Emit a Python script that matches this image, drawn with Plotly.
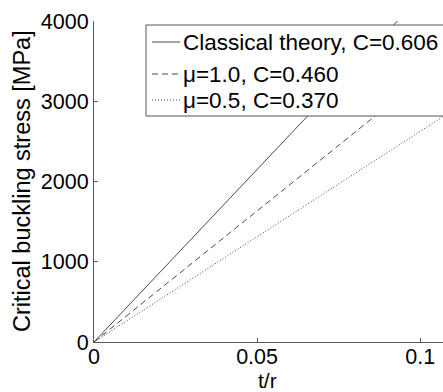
import plotly.graph_objects as go

# Data
t_r = [0.0, 0.12]
classical = [0.0, 5160.0]   # C = 0.606
mu_10 = [0.0, 3920.0]       # mu = 1.0, C = 0.460
mu_05 = [0.0, 3150.0]       # mu = 0.5, C = 0.370

names = ["Classical theory, C=0.606", "\u03bc=1.0, C=0.460", "\u03bc=0.5, C=0.370"]
series = [classical, mu_10, mu_05]
dashes = ["solid", "6px,4px", "1px,2px"]

x_ticks = [0, 0.05, 0.1]
x_ticklabels = ["0", "0.05", "0.1"]
y_ticks = [0, 1000, 2000, 3000, 4000]
y_ticklabels = ["0", "1000", "2000", "3000", "4000"]

FONT = "Liberation Sans, Arial, sans-serif"
W, H = 443, 392
L, R, T, B = 94, 0, 21, 50
PW, PH = W - L - R, H - T - B


def px(xp):
    return (xp - L) / PW


def py(yp):
    return (H - B - yp) / PH


LINE_COLOR = "#333333"
AX_COLOR = "#555555"

fig = go.Figure()
for name, ys, d in zip(names, series, dashes):
    fig.add_trace(go.Scatter(
        x=t_r, y=ys, mode="lines", name=name, showlegend=False,
        line=dict(color=LINE_COLOR, width=0.9, dash=d),
    ))

shapes = [
    dict(type="rect", xref="paper", yref="paper",
         x0=px(146), x1=px(480), y0=py(116), y1=py(25),
         fillcolor="white", line=dict(color=AX_COLOR, width=1), layer="above"),
]
annotations = []
row_y = [42, 74, 100]
for name, d, ry in zip(names, dashes, row_y):
    shapes.append(dict(type="line", xref="paper", yref="paper",
                       x0=px(152), x1=px(180), y0=py(ry), y1=py(ry),
                       line=dict(color=LINE_COLOR, width=0.9, dash=d), layer="above"))
    annotations.append(dict(text=name, xref="paper", yref="paper",
                            x=px(181), y=py(ry), xanchor="left", yanchor="middle",
                            showarrow=False,
                            font=dict(family=FONT, size=22.5, color="black")))

annotations.append(dict(text="Critical buckling stress [MPa]", xref="paper", yref="paper",
                        x=px(22), y=py(181), xanchor="center", yanchor="middle",
                        textangle=-90, showarrow=False,
                        font=dict(family=FONT, size=23.5, color="black")))
annotations.append(dict(text="t/r", xref="paper", yref="paper",
                        x=px(267), y=py(381), xanchor="center", yanchor="middle",
                        showarrow=False, borderpad=0,
                        font=dict(family=FONT, size=21, color="black")))

fig.update_layout(
    width=W, height=H,
    margin=dict(l=L, r=R, t=T, b=B),
    paper_bgcolor="white", plot_bgcolor="white",
    font=dict(family=FONT, size=21.5, color="black"),
    showlegend=False,
    shapes=shapes,
    annotations=annotations,
    xaxis=dict(
        range=[0, 0.107], tickvals=x_ticks, ticktext=x_ticklabels,
        ticks="inside", ticklen=4, tickcolor=AX_COLOR,
        showline=True, linecolor=AX_COLOR, linewidth=1,
        showgrid=False, zeroline=False, mirror=False,
        tickfont=dict(family=FONT, size=21.5), ticklabelstandoff=-5,
    ),
    yaxis=dict(
        range=[0, 4000], tickvals=y_ticks, ticktext=y_ticklabels,
        ticks="inside", ticklen=4, tickcolor=AX_COLOR,
        showline=True, linecolor=AX_COLOR, linewidth=1,
        showgrid=False, zeroline=False, mirror=False,
        tickfont=dict(family=FONT, size=21.5),
    ),
)

fig.write_html("out.html")
